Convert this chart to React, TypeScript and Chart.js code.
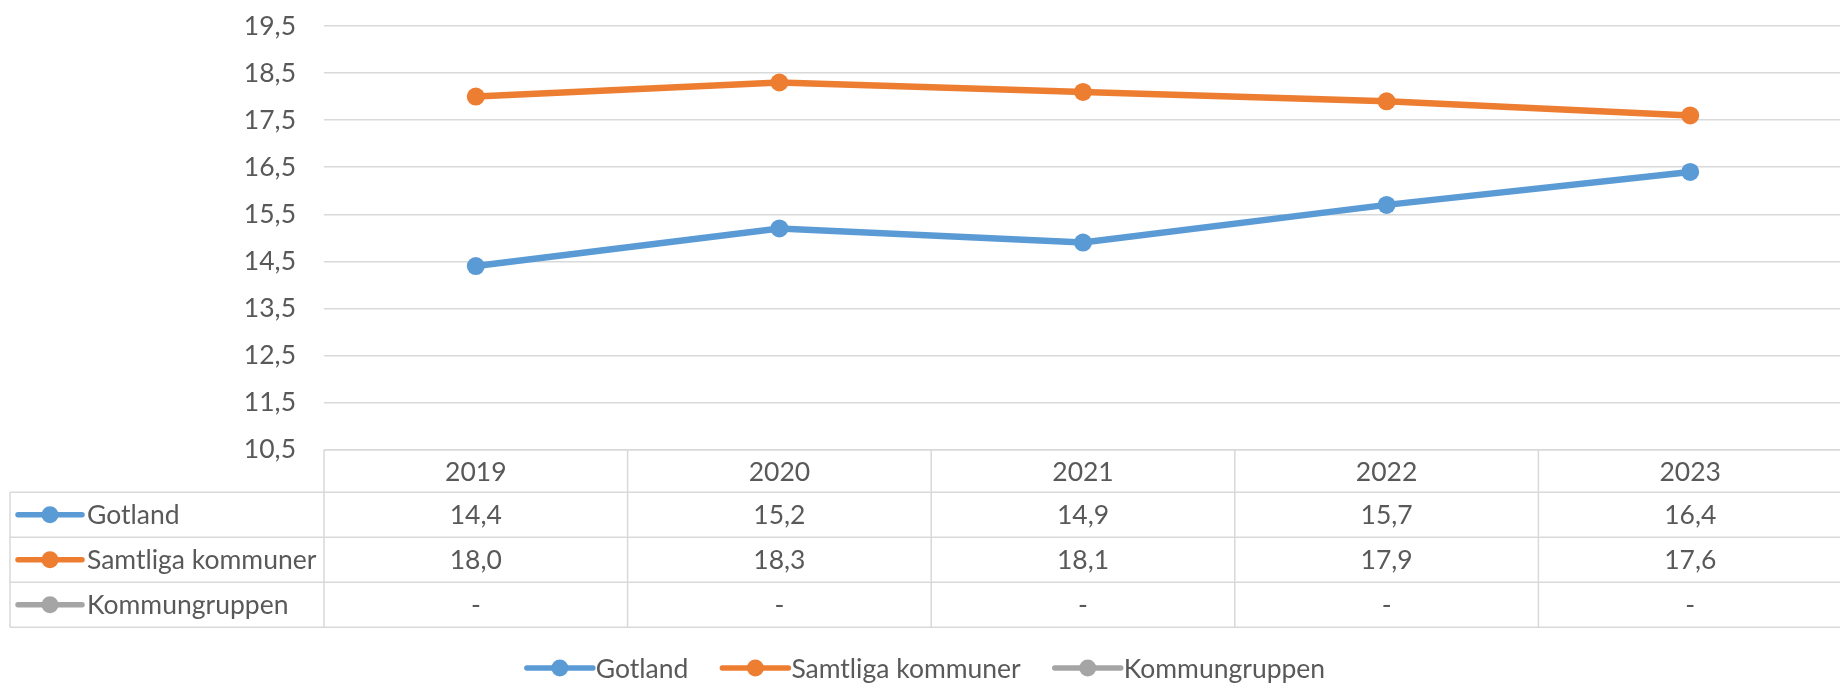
import React, { useEffect, useRef } from "react";
import { Chart, registerables } from "chart.js";

Chart.register(...registerables);

const categories = ["2019", "2020", "2021", "2022", "2023"];
const gotland = [14.4, 15.2, 14.9, 15.7, 16.4];
const samtliga = [18.0, 18.3, 18.1, 17.9, 17.6];
const kommungruppen: (number | null)[] = [null, null, null, null, null];
const seriesNames = ["Gotland", "Samtliga kommuner", "Kommungruppen"];
const seriesColors = ["#5B9BD5", "#ED7D31", "#A5A5A5"];
const yMin = 10.5;
const yMax = 19.5;
const yStep = 1;

const FONT_FAMILY = "Lato, 'Open Sans', sans-serif";
const FONT_SIZE = 26.5;
const TEXT = "#595959";
const GRID = "#D9D9D9";

const fmt = (v: number | null | undefined) =>
  v == null ? "-" : v.toFixed(1).replace(".", ",");

function drawMarker(ctx: CanvasRenderingContext2D, x1: number, x2: number, y: number, color: string) {
  ctx.save();
  ctx.strokeStyle = color;
  ctx.lineWidth = 5.5;
  ctx.lineCap = "round";
  ctx.beginPath();
  ctx.moveTo(x1, y);
  ctx.lineTo(x2, y);
  ctx.stroke();
  ctx.fillStyle = color;
  ctx.beginPath();
  ctx.arc((x1 + x2) / 2, y, 8.5, 0, Math.PI * 2);
  ctx.fill();
  ctx.restore();
}

const tablePlugin = {
  id: "dataTable",
  afterDraw(chart: any) {
    const ctx: CanvasRenderingContext2D = chart.ctx;
    const area = chart.chartArea;
    const xs = chart.scales.x;
    const n = categories.length;
    const band = (area.right - area.left) / n;
    const tableLeft = 10;
    const right = chart.width;
    const headerH = 42.6;
    const rowH = 45;
    const top = area.bottom;
    const headerBottom = top + headerH;
    const datasets = chart.data.datasets;
    const rowsBottom = headerBottom + rowH * datasets.length;

    ctx.save();
    ctx.strokeStyle = GRID;
    ctx.lineWidth = 1.5;
    ctx.beginPath();
    ctx.moveTo(area.left, top);
    ctx.lineTo(right, top);
    for (let r = 0; r <= datasets.length; r++) {
      const y = headerBottom + r * rowH;
      ctx.moveTo(tableLeft, y);
      ctx.lineTo(right, y);
    }
    ctx.moveTo(tableLeft, headerBottom);
    ctx.lineTo(tableLeft, rowsBottom);
    for (let i = 0; i < n; i++) {
      const x = xs.getPixelForValue(i) - band / 2;
      ctx.moveTo(x, top);
      ctx.lineTo(x, rowsBottom);
    }
    ctx.stroke();

    ctx.fillStyle = TEXT;
    ctx.font = `${FONT_SIZE}px ${FONT_FAMILY}`;
    ctx.textBaseline = "middle";
    ctx.textAlign = "center";
    categories.forEach((c, i) => {
      ctx.fillText(c, xs.getPixelForValue(i), top + headerH / 2 + 1);
    });
    datasets.forEach((ds: any, r: number) => {
      const yc = headerBottom + r * rowH + rowH / 2 + 1;
      ctx.textAlign = "center";
      ctx.fillStyle = TEXT;
      categories.forEach((_, i) => {
        ctx.fillText(fmt(ds.data[i]), xs.getPixelForValue(i), yc);
      });
      drawMarker(ctx, 18, 82, yc - 1, ds.borderColor);
      ctx.fillStyle = TEXT;
      ctx.textAlign = "left";
      ctx.fillText(ds.label, 87, yc);
    });

    const markerW = 66;
    const gapText = 3;
    const gapItem = 34;
    const widths = datasets.map((ds: any) => markerW + gapText + ctx.measureText(ds.label).width);
    const total = widths.reduce((a: number, b: number) => a + b, 0) + gapItem * (datasets.length - 1);
    let x = 926 - total / 2;
    const ly = 668;
    datasets.forEach((ds: any, i: number) => {
      drawMarker(ctx, x, x + markerW, ly, ds.borderColor);
      ctx.fillStyle = TEXT;
      ctx.textAlign = "left";
      ctx.fillText(ds.label, x + markerW + gapText, ly + 1);
      x += widths[i] + gapItem;
    });
    ctx.restore();
  },
};

export default function App() {
  const ref = useRef<HTMLCanvasElement | null>(null);

  useEffect(() => {
    if (!ref.current) return;
    const seriesData = [gotland, samtliga, kommungruppen];
    const chart = new Chart(ref.current, {
      type: "line",
      data: {
        labels: categories,
        datasets: seriesNames.map((name, i) => ({
          label: name,
          data: seriesData[i],
          borderColor: seriesColors[i],
          backgroundColor: seriesColors[i],
          borderWidth: 6.5,
          pointRadius: 9,
          pointBorderWidth: 0,
          pointBackgroundColor: seriesColors[i],
          tension: 0,
          spanGaps: false,
        })),
      },
      options: {
        responsive: false,
        animation: false,
        devicePixelRatio: 1,
        layout: { padding: { top: 26, bottom: 233.3, left: 0, right: 0 } },
        plugins: {
          legend: { display: false },
          tooltip: { enabled: false },
        },
        scales: {
          x: {
            type: "category",
            display: false,
            offset: true,
          },
          y: {
            min: yMin,
            max: yMax,
            border: { display: false },
            grid: { color: GRID, lineWidth: 1.5, drawTicks: false },
            ticks: {
              stepSize: yStep,
              padding: 28,
              color: TEXT,
              font: { family: FONT_FAMILY, size: FONT_SIZE },
              callback: (v: any) => fmt(Number(v)),
            },
            afterFit: (scale: any) => {
              scale.width = 324;
              scale.paddingTop = 0;
              scale.paddingBottom = 0;
            },
          },
        },
      },
      plugins: [tablePlugin],
    });
    return () => chart.destroy();
  }, []);

  return (
    <div
      style={{
        position: "fixed",
        left: 0,
        top: 0,
        width: 1840,
        height: 683,
        overflow: "hidden",
        background: "#fff",
      }}
    >
      <canvas ref={ref} width={1851} height={683} style={{ width: 1851, height: 683, display: "block" }} />
    </div>
  );
}
